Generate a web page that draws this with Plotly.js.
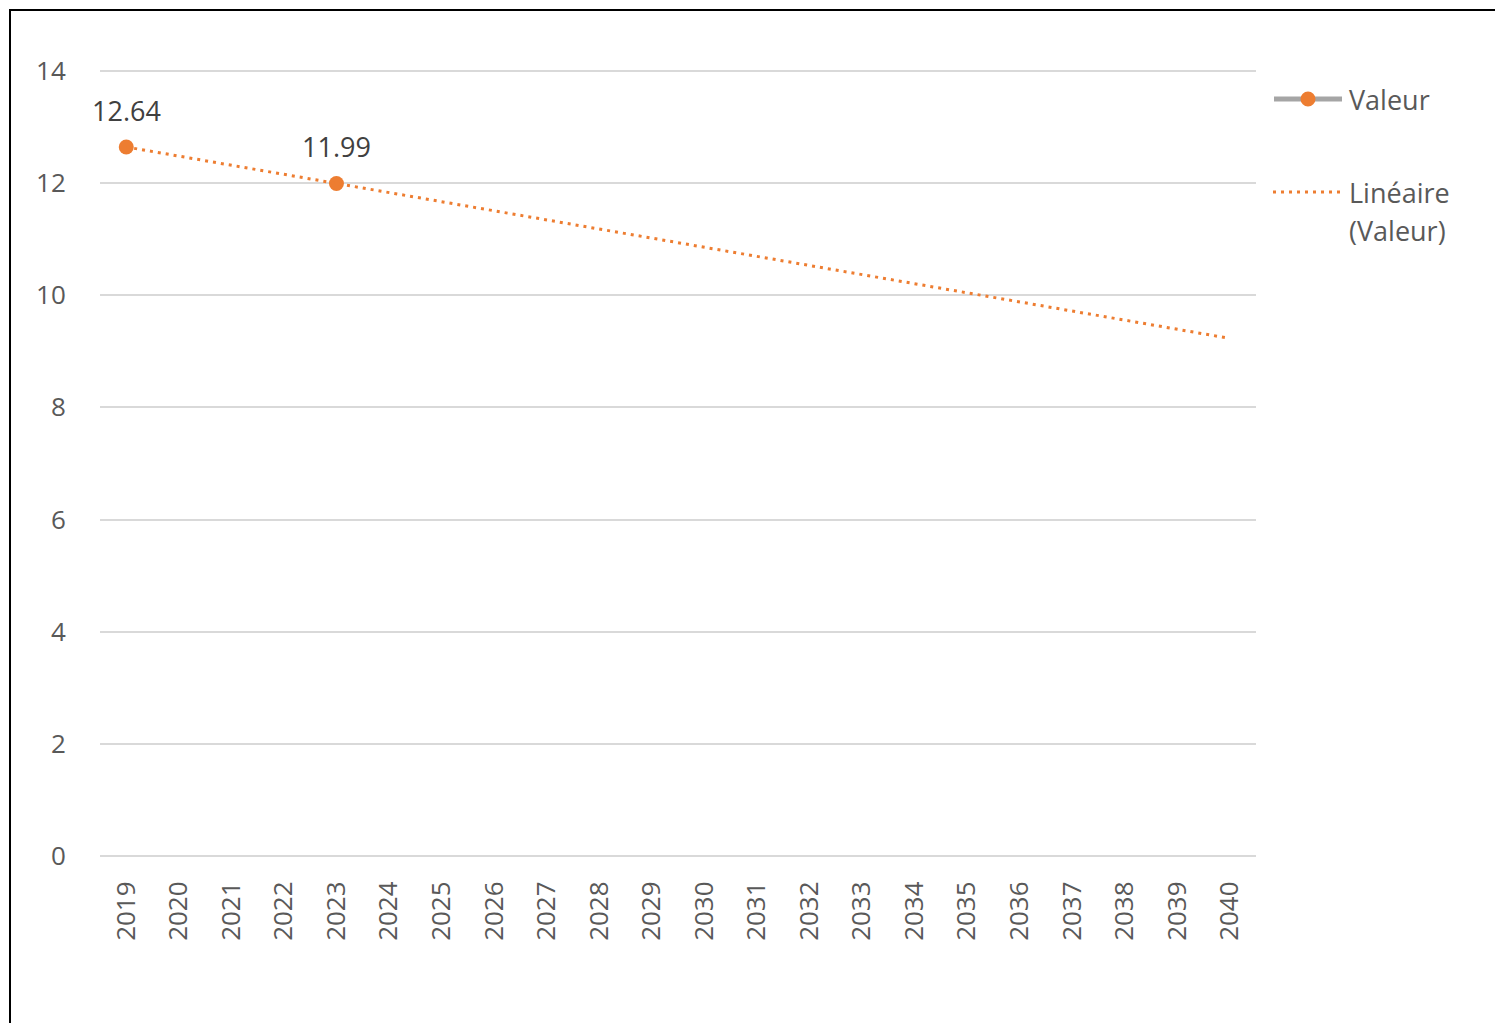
<!DOCTYPE html>
<html>
<head>
<meta charset="utf-8">
<script src="https://cdn.plot.ly/plotly-3.0.1.min.js"></script>
<style>
  html, body { margin: 0; padding: 0; background: #fff; }
  #wrap { position: relative; width: 1495px; height: 1023px; }
  #frame { position: absolute; left: 9px; top: 9px; right: 0; bottom: 0; border-top: 2px solid #000; border-left: 2px solid #000; pointer-events: none; }
  #chart { position: absolute; left: 0; top: 0; width: 1495px; height: 1023px; }
</style>
</head>
<body>
<div id="wrap">
  <div id="chart"></div>
  <div id="frame"></div>
</div>
<script>
const years = ['2019','2020','2021','2022','2023','2024','2025','2026','2027','2028','2029','2030','2031','2032','2033','2034','2035','2036','2037','2038','2039','2040'];
const values = [12.64, null, null, null, 11.99, null, null, null, null, null, null, null, null, null, null, null, null, null, null, null, null, null];
const trendYears = ['2019', '2040'];
const trendValues = [12.64, 9.23];
const seriesName = 'Valeur';
const trendNameLines = ['Linéaire', '(Valeur)'];

const FONT = '"Open Sans", "Noto Sans", "Liberation Sans", sans-serif';
const W = 1495, H = 1023;
const M = { l: 100, r: 239, t: 69, b: 165 };
const PW = W - M.l - M.r, PH = H - M.t - M.b;
const px = v => (v - M.l) / PW;          // pixel -> paper x
const py = v => (H - M.b - v) / PH;      // pixel -> paper y

const traces = [
  {
    type: 'scatter', mode: 'lines+markers',
    x: years, y: values,
    name: seriesName, showlegend: false,
    connectgaps: false,
    line: { color: '#a5a5a5', width: 4 },
    marker: { color: '#ed7d31', size: 15 },
    cliponaxis: false
  },
  {
    type: 'scatter', mode: 'lines',
    x: trendYears, y: trendValues,
    name: trendNameLines.join(' '), showlegend: false,
    line: { color: '#ed7d31', width: 3, dash: '3px,5px' },
    hoverinfo: 'skip'
  }
];

// data labels built from the data arrays (category index on x)
const annotations = [];
years.forEach((yr, i) => {
  if (values[i] !== null) {
    annotations.push({
      x: i, y: values[i], xref: 'x', yref: 'y',
      text: values[i].toFixed(2), showarrow: false,
      yanchor: 'middle', yshift: 37,
      font: { family: FONT, size: 27, color: '#404040' }
    });
  }
});

// manual legend (Excel-style long symbols)
const legFont = { family: FONT, size: 27, color: '#595959' };
annotations.push(
  { xref: 'paper', yref: 'paper', x: px(1347), y: py(99), xanchor: 'left', yanchor: 'middle', text: seriesName, showarrow: false, font: legFont },
  { xref: 'paper', yref: 'paper', x: px(1347), y: py(192), xanchor: 'left', yanchor: 'middle', text: trendNameLines[0], showarrow: false, font: legFont },
  { xref: 'paper', yref: 'paper', x: px(1347), y: py(231), xanchor: 'left', yanchor: 'middle', text: trendNameLines[1], showarrow: false, font: legFont }
);
const shapes = [
  { type: 'line', xref: 'paper', yref: 'paper', x0: px(1274), x1: px(1342), y0: py(99), y1: py(99), line: { color: '#a5a5a5', width: 5 } },
  { type: 'circle', xref: 'paper', yref: 'paper', x0: px(1300.5), x1: px(1315.5), y0: py(91.5), y1: py(106.5), fillcolor: '#ed7d31', line: { color: '#ed7d31', width: 0 } },
  { type: 'line', xref: 'paper', yref: 'paper', x0: px(1273), x1: px(1343), y0: py(192), y1: py(192), line: { color: '#ed7d31', width: 3, dash: '3px,5px' } }
];

const layout = {
  width: W, height: H,
  margin: M,
  paper_bgcolor: '#fff', plot_bgcolor: '#fff',
  font: { family: FONT, size: 26, color: '#595959' },
  showlegend: false,
  annotations: annotations,
  shapes: shapes,
  xaxis: {
    type: 'category', categoryorder: 'array', categoryarray: years,
    range: [-0.5, 21.5],
    tickangle: -90,
    ticks: 'outside', ticklen: 12, tickcolor: 'rgba(0,0,0,0)',
    tickfont: { family: FONT, size: 26, color: '#595959' },
    showgrid: false, zeroline: false,
    showline: false
  },
  yaxis: {
    range: [-0.03, 14.03], tickvals: [0, 2, 4, 6, 8, 10, 12, 14],
    ticks: 'outside', ticklen: 28, tickcolor: 'rgba(0,0,0,0)',
    tickfont: { family: FONT, size: 26, color: '#595959' },
    showgrid: true, gridcolor: '#d9d9d9', gridwidth: 2,
    zeroline: true, zerolinecolor: '#d9d9d9', zerolinewidth: 2, showline: false
  }
};

Plotly.newPlot('chart', traces, layout, { staticPlot: true, displayModeBar: false });
</script>
</body>
</html>
